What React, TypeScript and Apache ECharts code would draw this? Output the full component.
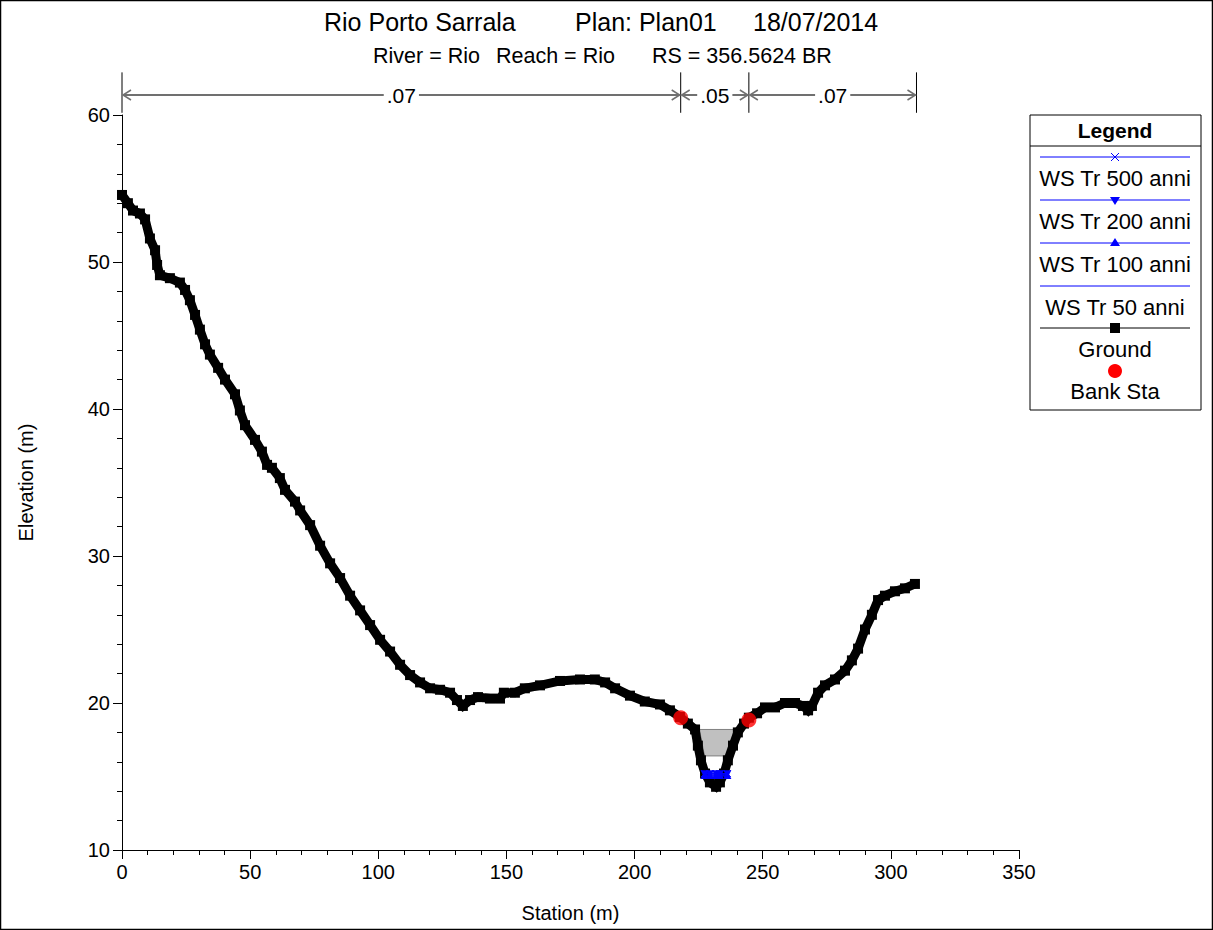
import React, { useEffect, useRef } from "react";
import * as echarts from "echarts";

const groundStation = [0, 2.3, 4.3, 7, 9, 10.9, 12.9, 13.7, 14.8, 18.7, 22.6, 24.6, 26.5, 28.5, 30.4, 32.4, 34.3, 37.5, 40.2, 44.1, 46.0, 48, 51.9, 54.6, 56.6, 58.5, 61.6, 63.6, 67.5, 69.5, 73.4, 77.3, 81.2, 85.1, 89, 92.9, 96.8, 100.7, 104.6, 108.5, 112.4, 116.3, 120.2, 124.1, 128, 130.7, 133, 135.8, 138.9, 143.6, 147.5, 149, 153.3, 157.2, 163.1, 170.9, 178.7, 184.5, 188.5, 192.4, 198.2, 204, 209.9, 213.8, 217.7, 220.8, 223.6, 224.7, 225.9, 227.5, 229.4, 231.8, 233.3, 234.9, 236.4, 238.4, 240.3, 242.7, 244.6, 247.8, 250.9, 254.8, 258.7, 262.6, 265.7, 267.7, 269.2, 271.6, 274.3, 278.2, 282.1, 284.8, 287.2, 289.9, 292.6, 295, 297.7, 301.6, 305.5, 309.4];
const groundElev = [54.56, 54.0, 53.5, 53.3, 52.9, 51.6, 50.8, 49.8, 49.1, 48.9, 48.6, 48.1, 47.4, 46.4, 45.4, 44.4, 43.7, 42.8, 42.0, 41.0, 39.9, 38.9, 37.9, 37.1, 36.2, 36.0, 35.3, 34.5, 33.7, 33.1, 32.1, 30.7, 29.5, 28.5, 27.3, 26.3, 25.3, 24.3, 23.5, 22.6, 21.9, 21.4, 21.0, 20.9, 20.7, 20.2, 19.8, 20.2, 20.4, 20.3, 20.3, 20.7, 20.7, 21.0, 21.2, 21.5, 21.6, 21.6, 21.4, 21.0, 20.5, 20.1, 19.9, 19.5, 19.05, 18.6, 18.2, 17.1, 16.1, 15.2, 14.6, 14.3, 14.6, 15.2, 16.1, 17.1, 18.0, 18.6, 19.0, 19.3, 19.7, 19.7, 20.0, 20.0, 19.8, 19.5, 19.8, 20.7, 21.2, 21.6, 22.2, 22.9, 23.7, 25.0, 26.0, 27.0, 27.3, 27.6, 27.8, 28.1];

const bankStation = [218, 244.6];
const bankElev = [19.0, 18.85];

const wsStation = [227.3, 229.4, 231.8, 233.3, 236.2];
const ws500 = [15.2, 15.2, 15.2, 15.2, 15.2];
const ws200 = [15.15, 15.15, 15.15, 15.15, 15.15];
const ws100 = [15.1, 15.1, 15.1, 15.1, 15.1];
const ws50 = [15.05, 15.05, 15.05, 15.05, 15.05];

const deckStation = [225.3, 239.8, 236.8, 227.3];
const deckElev = [18.2, 18.2, 16.4, 16.4];

const nBreaks = [0, 218, 244.6, 310];
const nLabels = [".07", ".05", ".07"];
const nBandElev = 61.36;
const nTickTop = 62.9;
const nTickBottom = 60.15;

const xTicks = { min: 0, max: 350, interval: 50 };
const yTicks = { min: 10, max: 60, interval: 10 };

const FONT = "Arial, 'Liberation Sans', sans-serif";

export default function App() {
  const ref = useRef<HTMLDivElement>(null);
  useEffect(() => {
    if (!ref.current) return;
    const chart = echarts.init(ref.current, null, { renderer: "svg" });
    const zip = (a: number[], b: number[]) => a.map((v, i) => [v, b[i]]);
    const blue = "#0000ff";
    const legendLeft = 1040, legendRight = 1190, lcx = 1115;
    const LF = `22px ${FONT}`;
    const legendItems: any[] = [];
    const wsLegend = [
      { y: 157, label: "WS Tr 500 anni", mark: "x" },
      { y: 200, label: "WS Tr 200 anni", mark: "down" },
      { y: 243, label: "WS Tr 100 anni", mark: "up" },
      { y: 286, label: "WS Tr 50 anni", mark: "none" },
    ];
    wsLegend.forEach((it) => {
      legendItems.push({ type: "line", shape: { x1: legendLeft, y1: it.y, x2: legendRight, y2: it.y }, style: { stroke: blue, lineWidth: 1 } });
      if (it.mark === "x") {
        legendItems.push({ type: "line", shape: { x1: lcx - 4, y1: it.y - 4, x2: lcx + 4, y2: it.y + 4 }, style: { stroke: blue, lineWidth: 1 } });
        legendItems.push({ type: "line", shape: { x1: lcx - 4, y1: it.y + 4, x2: lcx + 4, y2: it.y - 4 }, style: { stroke: blue, lineWidth: 1 } });
      } else if (it.mark === "down") {
        legendItems.push({ type: "polygon", shape: { points: [[lcx - 5, it.y - 3], [lcx + 5, it.y - 3], [lcx, it.y + 5]] }, style: { fill: blue } });
      } else if (it.mark === "up") {
        legendItems.push({ type: "polygon", shape: { points: [[lcx - 5, it.y + 3], [lcx + 5, it.y + 3], [lcx, it.y - 5]] }, style: { fill: blue } });
      }
      legendItems.push({ type: "text", x: lcx, y: it.y + 21, style: { text: it.label, font: LF, fill: "#000", align: "center", verticalAlign: "middle" } });
    });
    legendItems.push({ type: "line", shape: { x1: legendLeft, y1: 328, x2: legendRight, y2: 328 }, style: { stroke: "#000", lineWidth: 1 } });
    legendItems.push({ type: "rect", shape: { x: lcx - 5, y: 323, width: 10, height: 10 }, style: { fill: "#000" } });
    legendItems.push({ type: "text", x: lcx, y: 349, style: { text: "Ground", font: LF, fill: "#000", align: "center", verticalAlign: "middle" } });
    legendItems.push({ type: "circle", shape: { cx: lcx, cy: 371, r: 7 }, style: { fill: "#ff0000" } });
    legendItems.push({ type: "text", x: lcx, y: 391, style: { text: "Bank Sta", font: LF, fill: "#000", align: "center", verticalAlign: "middle" } });

    const option: any = {
      animation: false,
      backgroundColor: "#fff",
      textStyle: { fontFamily: FONT },
      grid: { left: 122, right: 194, top: 115, bottom: 80 },
      xAxis: {
        type: "value", min: xTicks.min, max: xTicks.max, interval: xTicks.interval,
        name: "Station (m)", nameLocation: "middle", nameGap: 53,
        nameTextStyle: { fontSize: 20, color: "#000", fontFamily: FONT },
        axisLine: { show: true, onZero: false, lineStyle: { color: "#000", width: 1 } },
        axisTick: { show: true, length: 9, inside: false, lineStyle: { color: "#000" } },
        minorTick: { show: true, splitNumber: 5, length: 5, lineStyle: { color: "#000" } },
        axisLabel: { fontSize: 20, color: "#000", margin: 12, fontFamily: FONT },
        splitLine: { show: false },
      },
      yAxis: {
        type: "value", min: yTicks.min, max: yTicks.max, interval: yTicks.interval,
        name: "Elevation (m)", nameLocation: "middle", nameGap: 86, nameRotate: 90,
        nameTextStyle: { fontSize: 20, color: "#000", fontFamily: FONT },
        axisLine: { show: true, onZero: false, lineStyle: { color: "#000", width: 1 } },
        axisTick: { show: true, length: 9, lineStyle: { color: "#000" } },
        minorTick: { show: true, splitNumber: 5, length: 5, lineStyle: { color: "#000" } },
        axisLabel: { fontSize: 20, color: "#000", margin: 12, fontFamily: FONT },
        splitLine: { show: false },
      },
      series: [
        {
          type: "custom", name: "deck", z: 1, silent: true,
          data: [0],
          renderItem: (_p: any, api: any) => ({
            type: "polygon",
            shape: { points: deckStation.map((s, i) => api.coord([s, deckElev[i]])) },
            style: { fill: "#c0c0c0", stroke: "#808080", lineWidth: 1 },
          }),
        },
        {
          type: "custom", name: "nvalues", z: 5, silent: true, clip: false,
          data: [0],
          renderItem: (_p: any, api: any) => {
            const children: any[] = [];
            const yBand = api.coord([0, nBandElev])[1];
            const yTop = api.coord([0, nTickTop])[1];
            const yBot = api.coord([0, nTickBottom])[1];
            const gray = "#707070";
            nBreaks.forEach((b) => {
              const x = api.coord([b, nBandElev])[0];
              children.push({ type: "line", shape: { x1: x, y1: yTop, x2: x, y2: yBot }, style: { stroke: "#000", lineWidth: 1 } });
            });
            for (let i = 0; i < nLabels.length; i++) {
              const x1 = api.coord([nBreaks[i], nBandElev])[0] + 1;
              const x2 = api.coord([nBreaks[i + 1], nBandElev])[0] - 1;
              children.push({ type: "line", shape: { x1, y1: yBand, x2, y2: yBand }, style: { stroke: gray, lineWidth: 2 } });
              children.push({ type: "polyline", shape: { points: [[x1 + 8, yBand - 5], [x1, yBand], [x1 + 8, yBand + 5]] }, style: { stroke: gray, lineWidth: 1.5, fill: null } });
              children.push({ type: "polyline", shape: { points: [[x2 - 8, yBand - 5], [x2, yBand], [x2 - 8, yBand + 5]] }, style: { stroke: gray, lineWidth: 1.5, fill: null } });
              children.push({
                type: "text", x: (x1 + x2) / 2, y: yBand,
                style: { text: nLabels[i], font: `21px ${FONT}`, fill: "#000", align: "center", verticalAlign: "middle", backgroundColor: "#fff", padding: [0, 3] },
              });
            }
            return { type: "group", children };
          },
        },
        {
          type: "line", name: "WS Tr 500 anni", z: 4, data: zip(wsStation, ws500),
          lineStyle: { color: blue, width: 1 }, itemStyle: { color: blue, borderColor: blue, borderWidth: 1 },
          symbol: "path://M0,0L10,10M10,0L0,10", symbolSize: 7, showSymbol: true,
        },
        {
          type: "line", name: "WS Tr 200 anni", z: 4, data: zip(wsStation, ws200),
          lineStyle: { color: blue, width: 1 }, itemStyle: { color: blue },
          symbol: "triangle", symbolRotate: 180, symbolSize: 8,
        },
        {
          type: "line", name: "WS Tr 100 anni", z: 4, data: zip(wsStation, ws100),
          lineStyle: { color: blue, width: 1 }, itemStyle: { color: blue },
          symbol: "triangle", symbolSize: 8,
        },
        {
          type: "line", name: "WS Tr 50 anni", z: 4, data: zip(wsStation, ws50),
          lineStyle: { color: blue, width: 1 }, itemStyle: { color: blue },
          symbol: "none",
        },
        {
          type: "line", name: "Ground", z: 3, data: zip(groundStation, groundElev),
          lineStyle: { color: "#000", width: 9, join: "miter" }, itemStyle: { color: "#000" },
          symbol: "rect", symbolSize: 10,
        },
        {
          type: "scatter", name: "Bank Sta", z: 6, data: zip(bankStation, bankElev),
          itemStyle: { color: "#ff0000" }, symbol: "circle", symbolSize: 15,
        },
      ],
      graphic: [
        { type: "rect", shape: { x: 0.5, y: 0.5, width: 1212, height: 929 }, style: { fill: null, stroke: "#000", lineWidth: 1.5 }, z: 100 },
        { type: "text", x: 324, y: 22, style: { text: "Rio Porto Sarrala", font: `25px ${FONT}`, fill: "#000", verticalAlign: "middle" } },
        { type: "text", x: 575, y: 22, style: { text: "Plan: Plan01", font: `25px ${FONT}`, fill: "#000", verticalAlign: "middle" } },
        { type: "text", x: 753, y: 22, style: { text: "18/07/2014", font: `25px ${FONT}`, fill: "#000", verticalAlign: "middle" } },
        { type: "text", x: 373, y: 56, style: { text: "River = Rio", font: `21.5px ${FONT}`, fill: "#000", verticalAlign: "middle" } },
        { type: "text", x: 496, y: 56, style: { text: "Reach = Rio", font: `21.5px ${FONT}`, fill: "#000", verticalAlign: "middle" } },
        { type: "text", x: 652, y: 56, style: { text: "RS = 356.5624 BR", font: `21.5px ${FONT}`, fill: "#000", verticalAlign: "middle" } },
        { type: "rect", shape: { x: 1030, y: 115, width: 171, height: 295 }, style: { fill: "#fff", stroke: "#000", lineWidth: 1 } },
        { type: "line", shape: { x1: 1030, y1: 146, x2: 1201, y2: 146 }, style: { stroke: "#000", lineWidth: 1 } },
        { type: "text", x: lcx, y: 130, style: { text: "Legend", font: `bold 21px ${FONT}`, fill: "#000", align: "center", verticalAlign: "middle" } },
        ...legendItems,
      ],
    };
    chart.setOption(option);
    return () => chart.dispose();
  }, []);
  return <div ref={ref} style={{ position: "fixed", left: 0, top: 0, width: 1213, height: 930 }} />;
}
